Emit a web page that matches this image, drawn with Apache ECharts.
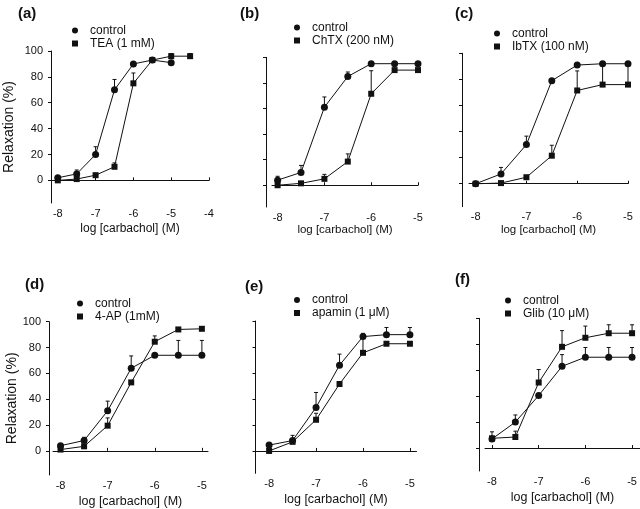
<!DOCTYPE html>
<html><head><meta charset="utf-8">
<script src="https://cdn.jsdelivr.net/npm/echarts@6/dist/echarts.min.js"></script>
<style>html,body{margin:0;padding:0;background:#fff}#c{width:640px;height:509px}</style>
</head><body><div id="c"></div>
<script>
// ---------------- data ----------------
const logConc = [-8, -7.5, -7, -6.5, -6, -5.5, -5];
const logConcTEA = [-8, -7.5, -7, -6.5, -6, -5.5, -5, -4.5];
const panelLabels = ['(a)', '(b)', '(c)', '(d)', '(e)', '(f)'];
const controlName = 'control';
const treatmentNames = ['TEA (1 mM)', 'ChTX (200 nM)', 'IbTX (100 nM)', '4-AP (1mM)', 'apamin (1 μM)', 'Glib (10 μM)'];
const xTicksA = [-8, -7, -6, -5, -4];
const xTicks = [-8, -7, -6, -5];
const yTicks = [0, 20, 40, 60, 80, 100];
const yAxisTitle = 'Relaxation (%)';
const xAxisTitle = 'log [carbachol] (M)';

const controlA = [2, 5, 20, 70, 90, 93, 91];
const controlErrA = [1, 3, 6, 8, 0, 0, 0];
const teaA = [0, 1, 4, 10.5, 75, 93, 96, 96];
const teaErrA = [0, 0, 0, 3, 8, 0, 2, 2];

const controlB = [4, 10, 61, 85, 95, 95, 95];
const controlErrB = [3, 5.5, 8, 3.5, 0, 0, 0];
const chtxB = [0, 1.5, 5, 18.5, 71.5, 90, 90];
const chtxErrB = [0, 0, 3.5, 6, 18, 0, 0];

const controlC = [0, 7.5, 30, 79, 91, 92, 92];
const controlErrC = [0, 5, 6.5, 0, 0, 0, 0];
const ibtxC = [0, 0.5, 5, 21.5, 71.5, 76, 76];
const ibtxErrC = [0, 0, 0, 8, 15, 16, 16];

const controlD = [4, 8, 31, 64, 74, 74, 74];
const controlErrD = [0, 2.5, 7.5, 9.5, 0, 11.5, 11.5];
const apD = [1, 3.5, 19.5, 53, 84.5, 94, 94.5];
const apErrD = [0, 0, 6, 0, 4.5, 0, 0];

const controlE = [4.5, 8, 33.5, 66, 88, 89.5, 89.5];
const controlErrE = [0, 4, 11.5, 8.5, 2.5, 5.5, 5.5];
const apaminE = [0, 7, 24, 51.5, 75.5, 82.5, 82.5];
const apaminErrE = [0, 0, 5, 0, 12, 0, 0];

const controlF = [7, 20, 40.5, 63, 70, 70, 70];
const controlErrF = [5.5, 5.5, 0, 9, 7.5, 7.5, 7.5];
const glibF = [7.5, 8.5, 50.5, 78, 85, 88.5, 88.5];
const glibErrF = [0, 4.5, 10, 12.5, 9, 6.5, 6.5];

const panels = [
  {ctrl: controlA, ctrlErr: controlErrA, trt: teaA, trtErr: teaErrA, trtX: logConcTEA, ticks: xTicksA},
  {ctrl: controlB, ctrlErr: controlErrB, trt: chtxB, trtErr: chtxErrB, trtX: logConc, ticks: xTicks},
  {ctrl: controlC, ctrlErr: controlErrC, trt: ibtxC, trtErr: ibtxErrC, trtX: logConc, ticks: xTicks},
  {ctrl: controlD, ctrlErr: controlErrD, trt: apD, trtErr: apErrD, trtX: logConc, ticks: xTicks},
  {ctrl: controlE, ctrlErr: controlErrE, trt: apaminE, trtErr: apaminErrE, trtX: logConc, ticks: xTicks},
  {ctrl: controlF, ctrlErr: controlErrF, trt: glibF, trtErr: glibErrF, trtX: logConc, ticks: xTicks}
];

// ---------------- layout ----------------
const layout = [
  {left: 51, top: 51, width: 158, height: 152, xMin: -8.18, xMax: -4, yMin: -17.5, yOff: 0, nameGap: 20, yLabels: true, yNameGap: 35, font: 12, label: [18, 6], legend: [72, 24]},
  {left: 272, top: 57.3, width: 146, height: 149.7, xMin: -8.12, xMax: -5, yMin: -17, yOff: 6, nameGap: 17, yLabels: false, font: 11.5, label: [240, 6], legend: [294, 21]},
  {left: 469, top: 53.3, width: 159, height: 153.4, xMin: -8.13, xMax: -5, yMin: -17.6, yOff: 7, nameGap: 15, yLabels: false, font: 11.5, label: [455, 6], legend: [494, 27]},
  {left: 53, top: 321.7, width: 155, height: 155, xMin: -8.16, xMax: -4.87, yMin: -18.7, yOff: 4, nameGap: 20, yLabels: true, yNameGap: 30, font: 12.5, label: [25, 277], legend: [77, 297]},
  {left: 255.5, top: 321, width: 161, height: 152.3, xMin: -8.29, xMax: -4.86, yMin: -17.2, yOff: 0, nameGap: 20, yLabels: false, font: 12.5, label: [245, 279], legend: [294, 293.5]},
  {left: 485, top: 318.3, width: 155, height: 152.7, xMin: -8.15, xMax: -4.83, yMin: -17.7, yOff: 6, nameGap: 20, yLabels: false, font: 12.5, label: [455, 272], legend: [505, 294]}
];

const FONT = '"Liberation Sans", Arial, sans-serif';
const INK = '#111';

function errItem(params, api) {
  const x = api.value(0), y = api.value(1), e = api.value(2);
  const p = api.coord([x, y]);
  const t = api.coord([x, y + e]);
  return {type: 'group', children: [
    {type: 'line', shape: {x1: p[0], y1: p[1], x2: t[0], y2: t[1]}, style: {stroke: INK, lineWidth: 1}},
    {type: 'line', shape: {x1: t[0] - 2, y1: t[1], x2: t[0] + 2, y2: t[1]}, style: {stroke: INK, lineWidth: 1}}
  ]};
}

const grids = [], xAxes = [], yAxes = [], series = [], legends = [], titles = [];
panels.forEach((pn, i) => {
  const L = layout[i];
  grids.push({left: L.left, top: L.top, width: L.width, height: L.height, containLabel: false});
  xAxes.push({
    type: 'value', gridIndex: i, min: L.xMin, max: L.xMax,
    name: xAxisTitle, nameLocation: 'middle', nameGap: L.nameGap,
    nameTextStyle: {fontFamily: FONT, fontSize: L.font, color: INK},
    axisLine: {lineStyle: {color: INK, width: 1}},
    axisTick: {inside: true, length: 3, lineStyle: {color: INK}, customValues: pn.ticks},
    axisLabel: {customValues: pn.ticks, fontFamily: FONT, fontSize: 11, color: INK, margin: 5},
    splitLine: {show: false}
  });
  yAxes.push({
    type: 'value', gridIndex: i, min: L.yMin, max: 100, offset: L.yOff,
    name: L.yLabels ? yAxisTitle : '', nameLocation: 'middle', nameGap: L.yNameGap || 30,
    nameTextStyle: {fontFamily: FONT, fontSize: 14, color: INK},
    axisLine: {show: true, lineStyle: {color: INK, width: 1}},
    axisTick: {show: true, length: 3, lineStyle: {color: INK}, customValues: yTicks},
    axisLabel: {show: L.yLabels, customValues: yTicks, fontFamily: FONT, fontSize: 11, color: INK, margin: 8},
    splitLine: {show: false}
  });
  const trtName = treatmentNames[i];
  series.push({
    type: 'line', name: controlName, xAxisIndex: i, yAxisIndex: i,
    data: logConc.map((x, k) => [x, pn.ctrl[k]]),
    symbol: 'circle', symbolSize: 7, lineStyle: {color: INK, width: 1}, itemStyle: {color: INK},
    z: 3, silent: true
  });
  series.push({
    type: 'line', name: trtName, xAxisIndex: i, yAxisIndex: i,
    data: pn.trtX.map((x, k) => [x, pn.trt[k]]),
    symbol: 'rect', symbolSize: 6, lineStyle: {color: INK, width: 1}, itemStyle: {color: INK},
    z: 3, silent: true
  });
  series.push({
    type: 'custom', name: controlName, xAxisIndex: i, yAxisIndex: i,
    data: logConc.map((x, k) => [x, pn.ctrl[k], pn.ctrlErr[k]]).filter(d => d[2] > 0),
    encode: {x: 0, y: 1}, renderItem: errItem, z: 2, silent: true
  });
  series.push({
    type: 'custom', name: trtName, xAxisIndex: i, yAxisIndex: i,
    data: pn.trtX.map((x, k) => [x, pn.trt[k], pn.trtErr[k]]).filter(d => d[2] > 0),
    encode: {x: 0, y: 1}, renderItem: errItem, z: 2, silent: true
  });
  legends.push({
    left: L.legend[0], top: L.legend[1], orient: 'vertical',
    itemWidth: 6, itemHeight: 6, itemGap: 0, selectedMode: false,
    data: [{name: controlName, icon: 'circle'}, {name: trtName, icon: 'rect'}],
    textStyle: {fontFamily: FONT, fontSize: 12, color: INK, lineHeight: 13, padding: [0, 0, 0, 7]},
    itemStyle: {color: INK}, padding: 0
  });
  titles.push({
    text: panelLabels[i], left: L.label[0], top: L.label[1], padding: 0,
    textStyle: {fontFamily: FONT, fontSize: 15, fontWeight: 'bold', color: INK}
  });
});

const chart = echarts.init(document.getElementById('c'), null, {renderer: 'canvas'});
chart.setOption({
  animation: false,
  backgroundColor: '#fff',
  title: titles,
  legend: legends,
  grid: grids,
  xAxis: xAxes,
  yAxis: yAxes,
  series: series
});
</script>
</body></html>
